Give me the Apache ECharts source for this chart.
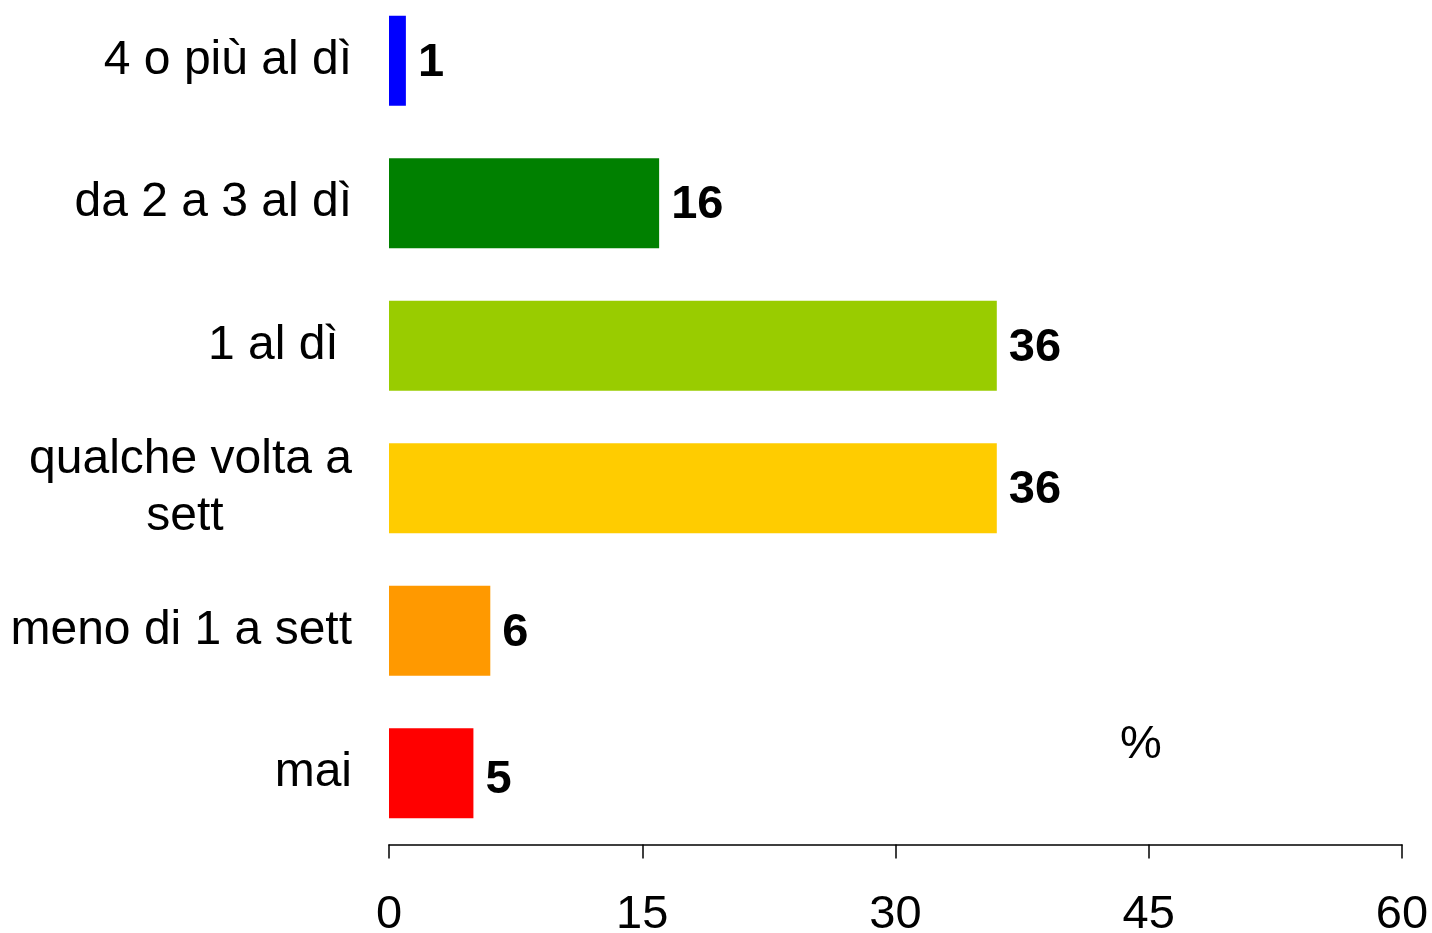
<!DOCTYPE html>
<html>
<head>
    <meta charset="utf-8">
    <title>Frequenza</title>
    <script src="https://cdn.jsdelivr.net/npm/echarts@6/dist/echarts.min.js"></script>
    <style>
        html, body { margin: 0; padding: 0; background: #fff; }
        #chart { width: 1432px; height: 933px; }
    </style>
</head>
<body>
<div id="chart"></div>

<script type="text/javascript">
    // categorie (dall'alto verso il basso)
    var categories = ['4 o più al dì', 'da 2 a 3 al dì', '1 al dì ', 'qualche volta a\nsett', 'meno di 1 a sett', 'mai'];
    // valori in %
    var values = [1, 16, 36, 36, 6, 5];
    var barColors = ['#0000FF', '#008000', '#99CC00', '#FFCC00', '#FF9900', '#FF0000'];
    var tickValues = [0, 15, 30, 45, 60];

    var font = '"Liberation Sans", Arial, sans-serif';

    var chart = echarts.init(document.getElementById('chart'));

    chart.setOption({
        animation: false,
        // la griglia parte un po' sopra il bordo, come nell'originale
        grid: { left: 389, right: 30, top: -10.5, height: 855, containLabel: false, outerBoundsMode: 'none' },
        xAxis: {
            type: 'value',
            min: tickValues[0],
            max: tickValues[tickValues.length - 1],
            interval: 15,
            splitLine: { show: false },
            axisLine: { show: true, lineStyle: { color: '#000', width: 1.5 } },
            axisTick: { show: true, length: 14, lineStyle: { color: '#000', width: 1.5 } },
            axisLabel: { color: '#000', fontSize: 47, fontFamily: font, margin: 47 }
        },
        yAxis: {
            type: 'category',
            inverse: true,
            data: categories,
            axisLine: { show: false },
            axisTick: { show: false },
            axisLabel: {
                color: '#000',
                fontSize: 48,
                fontFamily: font,
                margin: 37,
                align: 'right',
                formatter: function (v) {
                    if (v.indexOf('\n') >= 0) {
                        var parts = v.split('\n');
                        return '{a|' + parts[0] + '}\n{b|' + parts[1] + '}';
                    }
                    return v;
                },
                rich: {
                    a: { width: 334, align: 'right', fontSize: 48, lineHeight: 57, fontFamily: font, color: '#000' },
                    b: { width: 334, align: 'center', fontSize: 48, lineHeight: 57, fontFamily: font, color: '#000' }
                }
            }
        },
        series: [{
            type: 'bar',
            barWidth: 90,
            data: values.map(function (v, i) {
                var item = { value: v, itemStyle: { color: barColors[i] } };
                if (i === values.length - 1) {
                    item.label = { offset: [0, 7] };
                }
                return item;
            }),
            label: {
                show: true,
                position: 'right',
                distance: 12,
                color: '#000',
                fontSize: 47,
                fontWeight: 'bold',
                fontFamily: font,
                offset: [0, 2]
            }
        }],
        graphic: [{
            type: 'text',
            left: 1120,
            top: 722,
            style: { text: '%', fontSize: 47, fontFamily: font, fill: '#000' }
        }]
    });
</script>
</body>
</html>
